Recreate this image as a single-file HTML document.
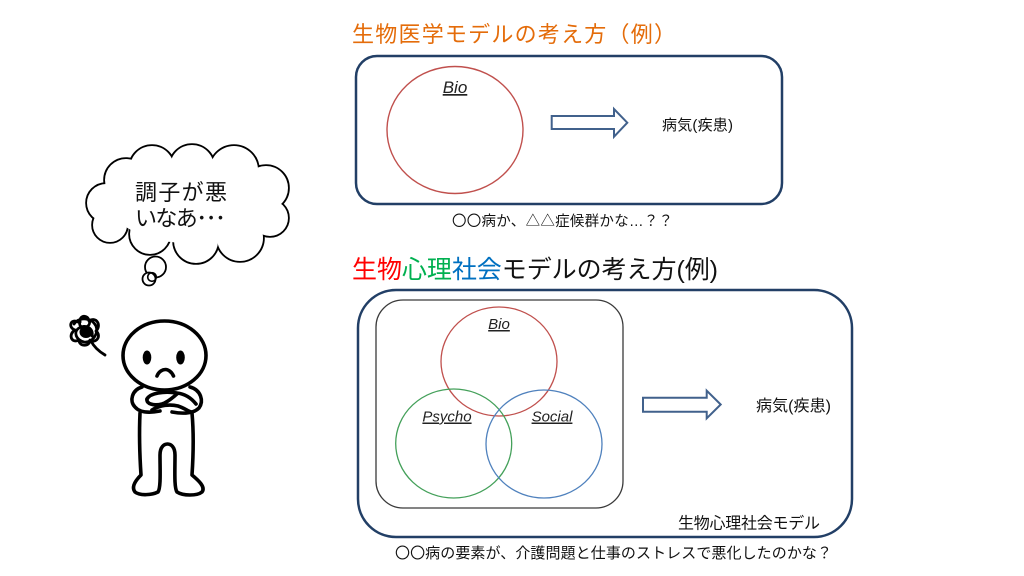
<!DOCTYPE html>
<html>
<head>
<meta charset="utf-8">
<style>
  html,body{margin:0;padding:0;background:#fff;}
  svg{display:block;}
  text{font-family:"Liberation Sans","Noto Sans CJK JP",sans-serif;}
</style>
</head>
<body>
<svg width="1024" height="576" viewBox="0 0 1024 576" xmlns="http://www.w3.org/2000/svg">
  <rect x="0" y="0" width="1024" height="576" fill="#fff"/>

  <!-- ===== Top section ===== -->
  <text x="352" y="42" font-size="22" fill="#E46C0A" textLength="324" lengthAdjust="spacing">生物医学モデルの考え方（例）</text>
  <rect x="356" y="56" width="426" height="148" rx="21" ry="21" fill="none" stroke="#223F66" stroke-width="2.5"/>
  <ellipse cx="455" cy="130" rx="68" ry="63.5" fill="none" stroke="#C0504D" stroke-width="1.4"/>
  <text x="455" y="93" font-size="17" font-style="italic" text-anchor="middle" fill="#222" style="text-decoration:underline">Bio</text>
  <polygon points="551.7,116 614,116 614,109 627.3,122.7 614,136.7 614,129 551.7,129" fill="#fff" stroke="#41618C" stroke-width="2" stroke-linejoin="miter"/>
  <text x="662" y="130" font-size="15" fill="#111" textLength="71" lengthAdjust="spacing">病気(疾患)</text>
  <text x="452" y="226" font-size="14.5" fill="#111" textLength="221" lengthAdjust="spacing">〇〇病か、△△症候群かな…？？</text>

  <!-- ===== Bottom section ===== -->
  <text x="352" y="278" font-size="25" fill="#111" textLength="366" lengthAdjust="spacing"><tspan fill="#FF0000">生物</tspan><tspan fill="#00B050">心理</tspan><tspan fill="#0070C0">社会</tspan><tspan fill="#111">モデルの考え方(例)</tspan></text>
  <rect x="358" y="290" width="494" height="247" rx="38" ry="38" fill="none" stroke="#223F66" stroke-width="2.5"/>
  <rect x="376" y="300" width="247" height="208" rx="27" ry="27" fill="none" stroke="#3a3a3a" stroke-width="1.3"/>

  <ellipse cx="499" cy="361.5" rx="58" ry="54.5" fill="none" stroke="#C0504D" stroke-width="1.3"/>
  <ellipse cx="453.7" cy="443.5" rx="58" ry="54.5" fill="none" stroke="#44A05A" stroke-width="1.3"/>
  <ellipse cx="544" cy="444" rx="58" ry="54" fill="none" stroke="#4F81BD" stroke-width="1.3"/>

  <text x="499" y="329" font-size="15" font-style="italic" text-anchor="middle" fill="#222" style="text-decoration:underline">Bio</text>
  <text x="447" y="421.5" font-size="15" font-style="italic" text-anchor="middle" fill="#222" style="text-decoration:underline">Psycho</text>
  <text x="552" y="421.5" font-size="15" font-style="italic" text-anchor="middle" fill="#222" style="text-decoration:underline">Social</text>

  <polygon points="643,397.7 706.7,397.7 706.7,390.7 720.7,404.5 706.7,418.3 706.7,411.7 643,411.7" fill="#fff" stroke="#41618C" stroke-width="2" stroke-linejoin="miter"/>
  <text x="756" y="411" font-size="16" fill="#111" textLength="75" lengthAdjust="spacing">病気(疾患)</text>
  <text x="678" y="528.5" font-size="16" fill="#111" textLength="142" lengthAdjust="spacing">生物心理社会モデル</text>
  <text x="395" y="558" font-size="15" fill="#111" textLength="437" lengthAdjust="spacing">〇〇病の要素が、介護問題と仕事のストレスで悪化したのかな？</text>

  <!-- ===== Thought cloud ===== -->
  <g stroke="#000" stroke-width="3.6" fill="none">
    <circle cx="106" cy="203" r="19"/>
    <circle cx="126" cy="180" r="21"/>
    <circle cx="152" cy="168" r="22"/>
    <circle cx="192" cy="167" r="22"/>
    <circle cx="234" cy="170" r="24"/>
    <circle cx="266" cy="188" r="22"/>
    <circle cx="270" cy="218" r="18"/>
    <circle cx="240" cy="238" r="23"/>
    <circle cx="196" cy="241" r="22"/>
    <circle cx="150" cy="234" r="20"/>
    <circle cx="110" cy="225" r="17"/>
  </g>
  <g fill="#fff" stroke="none">
    <circle cx="106" cy="203" r="19"/>
    <circle cx="126" cy="180" r="21"/>
    <circle cx="152" cy="168" r="22"/>
    <circle cx="192" cy="167" r="22"/>
    <circle cx="234" cy="170" r="24"/>
    <circle cx="266" cy="188" r="22"/>
    <circle cx="270" cy="218" r="18"/>
    <circle cx="240" cy="238" r="23"/>
    <circle cx="196" cy="241" r="22"/>
    <circle cx="150" cy="234" r="20"/>
    <circle cx="110" cy="225" r="17"/>
    <ellipse cx="188" cy="205" rx="76" ry="38"/>
  </g>
  <circle cx="155.5" cy="267" r="10.5" fill="#fff" stroke="#000" stroke-width="1.8"/>
  <circle cx="149" cy="279" r="6.5" fill="#fff" stroke="#000" stroke-width="1.8"/>
  <circle cx="152" cy="277" r="4.3" fill="none" stroke="#000" stroke-width="1.6"/>

  <text x="135" y="200" font-size="22" fill="#111" textLength="92" lengthAdjust="spacing">調子が悪</text>
  <text x="135" y="226" font-size="22" fill="#111" textLength="91" lengthAdjust="spacing">いなあ･･･</text>

  <!-- ===== Scribble ===== -->
  <g stroke="#000" stroke-width="2.8" fill="none" stroke-linecap="round" stroke-linejoin="round">
    <path d="M78,322 C70,318 68,328 75,330 C68,334 71,344 79,340 C79,347 90,347 90,340 C96,344 102,336 96,331 C102,325 96,316 89,321 C88,314 79,315 80,322"/>
    <path d="M74,324 C80,316 92,318 96,326 C99,334 92,343 84,342 C76,340 73,332 79,328 C85,324 94,328 92,336"/>
    <path d="M82,318 C88,316 92,322 88,326 C84,330 78,326 80,322"/>
    <path d="M91,341 C94,347 100,352 105,355"/>
  </g>
  <ellipse cx="86" cy="332" rx="6.5" ry="6" fill="#000"/>

  <!-- ===== Person ===== -->
  <g stroke="#000" stroke-width="3.6" fill="none" stroke-linecap="round" stroke-linejoin="round">
    <ellipse cx="164.5" cy="355.5" rx="41.5" ry="34.5" fill="#fff"/>
    <!-- frown -->
    <path d="M157,376 C159,371 163,369.5 165.5,369.5 C168,369.5 171.5,371.5 173.5,376"/>
    <!-- arms outer -->
    <path d="M142,387 C132,390 129,401 135,407 C140,413 150,413 160,411"/>
    <path d="M190,387 C201,390 204,401 199,408 C193,414 183,414 172,412"/>
    <!-- forearms -->
    <path d="M147,399 C150,393 164,391 177,393 C186,394 192,399 196,404"/>
    <path d="M147,399 C146,404 154,406 162,404 C168,402 172,398 177,394"/>
    <path d="M152,410 C160,405 170,404 178,406 C184,408 188,411 191,412"/>
    <!-- torso & legs -->
    <path d="M140,413 C139,435 140,460 141,475 C136,480 131,487 135,492 C140,496 152,495 158,492 C161,488 160,470 160,455 C160,447 164,444 167.5,444 C171,444 175,447 175,455 C175,470 174,488 177,492 C183,496 197,496 202,492 C206,487 198,480 192,475 C193,460 194,435 192,413"/>
  </g>
  <ellipse cx="147" cy="357.5" rx="4.3" ry="7" fill="#000"/>
  <ellipse cx="180.5" cy="357.5" rx="4.3" ry="7" fill="#000"/>
</svg>
</body>
</html>
